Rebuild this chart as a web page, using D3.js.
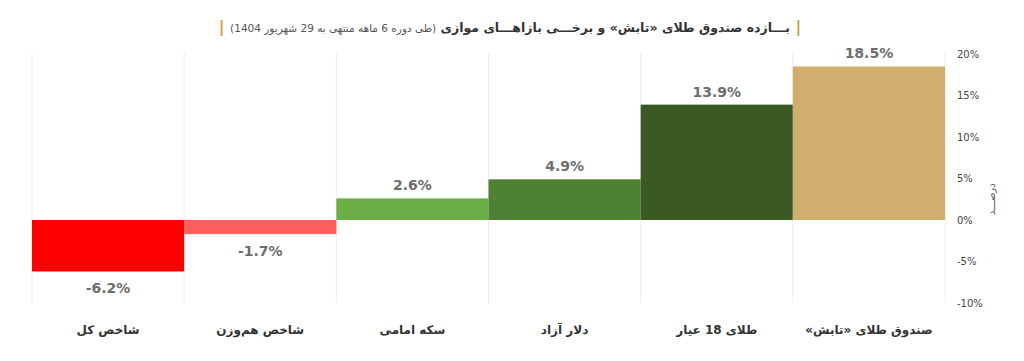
<!DOCTYPE html>
<html>
<head>
<meta charset="utf-8">
<script src="https://cdn.jsdelivr.net/npm/d3@7"></script>
<style>
  body { margin: 0; background: #fff; }
  text { font-family: "DejaVu Sans", sans-serif; }
</style>
</head>
<body>
<div id="chart"></div>
<script>
'use strict';

// Data (left to right on screen)
const categories = ['شاخص کل', 'شاخص هم‌وزن', 'سکه امامی', 'دلار آزاد', 'طلای 18 عیار', 'صندوق طلای «تابش»'];
const returns = [-6.2, -1.7, 2.6, 4.9, 13.9, 18.5];
const barColors = ['#ff0000', '#ff5f5f', '#6aae45', '#4f8132', '#3b5a23', '#cfae6e'];
const yTicks = [-10, -5, 0, 5, 10, 15, 20];
const titleMain = 'بـــازده صندوق طلای «تابش» و برخـــی بازاهـــای موازی';
const titleSub = '(طی دوره 6 ماهه منتهی به 29 شهریور 1404)';
const yTitle = 'درصـــد';

// Config svg
const w = 1024, h = 361;
const svg = d3.select('#chart').append('svg')
    .attr('width', w)
    .attr('height', h);

// Scales
const x = d3.scaleBand()
    .domain(categories)
    .range([32, 945])
    .padding(0);
const y = d3.scaleLinear()
    .domain([-10, 20])
    .range([303, 54]);

// Vertical grid lines between categories
const gridX = categories.map(c => x(c)).concat([x.range()[1]]);
svg.append('g').selectAll('line')
    .data(gridX)
    .join('line')
    .attr('x1', d => d).attr('x2', d => d)
    .attr('y1', y(20) - 1).attr('y2', y(-10))
    .attr('stroke', '#ececec')
    .attr('stroke-width', 1);

// Bars
svg.append('g').selectAll('rect')
    .data(returns)
    .join('rect')
    .attr('x', (d, i) => x(categories[i]))
    .attr('width', x.bandwidth())
    .attr('y', d => y(Math.max(0, d)))
    .attr('height', d => Math.abs(y(d) - y(0)))
    .attr('fill', (d, i) => barColors[i]);

// Value labels
svg.append('g').selectAll('text')
    .data(returns)
    .join('text')
    .attr('x', (d, i) => x(categories[i]) + x.bandwidth() / 2)
    .attr('y', d => d >= 0 ? y(d) - 8 : y(d) + 22)
    .attr('text-anchor', 'middle')
    .attr('font-size', 14)
    .attr('font-weight', 'bold')
    .attr('fill', '#6d6d6d')
    .text(d => `${d}%`);

// Category labels
svg.append('g').selectAll('text')
    .data(categories)
    .join('text')
    .attr('x', d => x(d) + x.bandwidth() / 2)
    .attr('y', 334)
    .attr('text-anchor', 'middle')
    .attr('direction', 'rtl')
    .attr('font-size', 12)
    .attr('font-weight', 'bold')
    .attr('fill', '#333')
    .text(d => d);

// Right axis
const axis = d3.axisRight(y)
    .tickValues(yTicks)
    .tickSize(0)
    .tickPadding(0)
    .tickFormat(d => `${d}%`);
const axisG = svg.append('g')
    .attr('transform', 'translate(957,0)')
    .call(axis);
axisG.select('.domain').remove();
axisG.selectAll('text')
    .attr('font-family', '"DejaVu Sans", sans-serif')
    .attr('font-size', 10)
    .attr('fill', '#444');

// Y axis title
svg.append('text')
    .attr('transform', `translate(995, ${y(2.5)}) rotate(-90)`)
    .attr('text-anchor', 'middle')
    .attr('direction', 'rtl')
    .attr('font-size', 10)
    .attr('fill', '#555')
    .text(yTitle);

// Title
const title = svg.append('text')
    .attr('x', 510)
    .attr('y', 32)
    .attr('text-anchor', 'middle')
    .attr('direction', 'rtl')
    .attr('fill', '#333');
title.append('tspan')
    .attr('fill', '#c9a53c')
    .attr('font-size', 16)
    .attr('font-weight', 'bold')
    .text('| ');
title.append('tspan')
    .attr('font-size', 12.5)
    .attr('font-weight', 'bold')
    .text(titleMain + ' ');
title.append('tspan')
    .attr('font-size', 10.5)
    .attr('fill', '#555')
    .text(titleSub);
title.append('tspan')
    .attr('fill', '#c9a53c')
    .attr('font-size', 16)
    .attr('font-weight', 'bold')
    .text(' |');
</script>
</body>
</html>
